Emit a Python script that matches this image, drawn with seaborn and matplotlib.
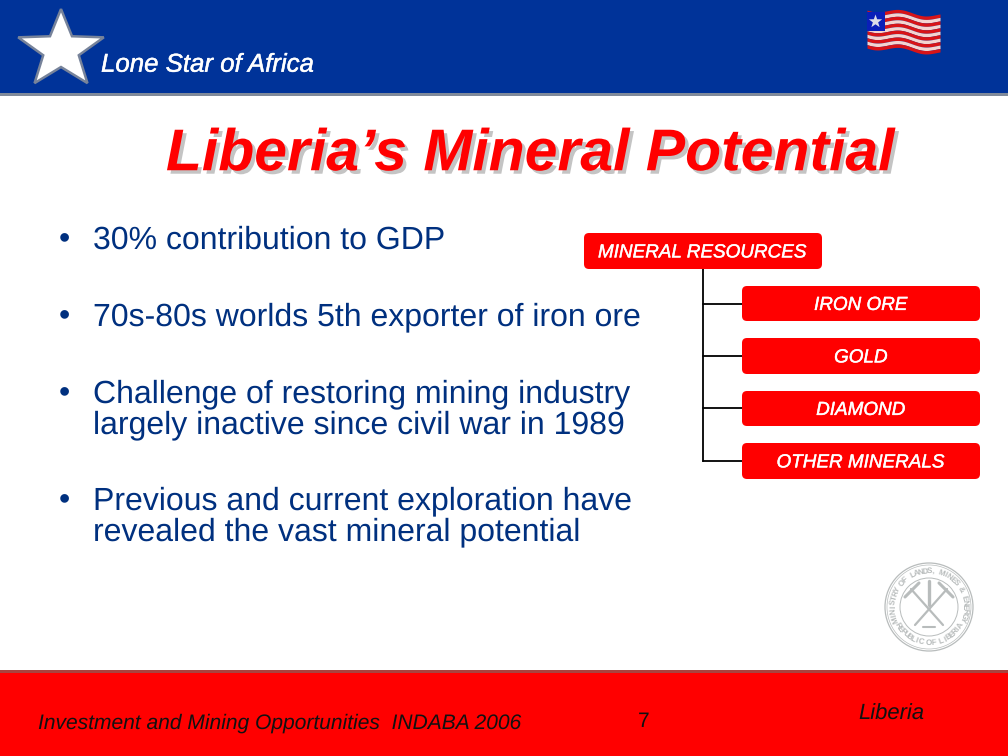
import numpy as np
import matplotlib
matplotlib.use("Agg")
import matplotlib.pyplot as plt
import matplotlib.patheffects as pe
from matplotlib.patches import FancyBboxPatch, Polygon, Rectangle, Circle
import seaborn as sns

sns.set_theme(style="white")
plt.rcParams['font.family'] = ['Liberation Sans', 'DejaVu Sans']
plt.rcParams['text.hinting'] = 'no_hinting'
plt.rcParams['text.hinting_factor'] = 1

header_text = "Lone Star of Africa"
title_text = "Liberia’s Mineral Potential"
bullet_lines = ["30% contribution to GDP",
                "70s-80s worlds 5th exporter of iron ore",
                "Challenge of restoring mining industry\nlargely inactive since civil war in 1989",
                "Previous and current exploration have\nrevealed the vast mineral potential"]
root_label = "MINERAL RESOURCES"
child_labels = ["IRON ORE", "GOLD", "DIAMOND", "OTHER MINERALS"]
footer_left = "Investment and Mining Opportunities  INDABA 2006"
footer_page = "7"
footer_right = "Liberia"
seal_top = "MINISTRY OF LANDS, MINES & ENERGY"
seal_bottom = "REPUBLIC OF LIBERIA"

BLUE = "#003399"; TEXTBLUE = "#00307F"; RED = "#FF0000"; GREY = "#808A9A"

fig = plt.figure(figsize=(10.08, 7.56), dpi=100)
ax = fig.add_axes([0, 0, 1, 1])
ax.set_xlim(0, 1008); ax.set_ylim(756, 0); ax.axis("off")

# bands
ax.add_patch(Rectangle((0, 0), 1008, 93, fc=BLUE, ec="none"))
ax.add_patch(Rectangle((0, 93), 1008, 3, fc=GREY, ec="none"))
ax.add_patch(Rectangle((0, 670), 1008, 86, fc=RED, ec="none"))
ax.add_patch(Rectangle((0, 670), 1008, 3, fc="#A8443F", ec="none"))

# star
a = np.deg2rad(-90 + np.arange(10) * 36)
rad = np.where(np.arange(10) % 2 == 0, 45, 18.7)
ax.add_patch(Polygon(np.c_[61 + rad * np.cos(a), 50 + rad * 0.91 * np.sin(a)],
                     fc="white", ec="#77839A", lw=1.8, joinstyle="miter"))
ax.text(101, 65, header_text, color="white", fontsize=18.6, style="italic",
        va="center", ha="left", path_effects=[pe.withStroke(linewidth=0.3, foreground="white")])

# flag
fx = np.linspace(867, 940, 80)
def wave(x, y0):
    frac = (x - 867) / 73
    return y0 + 2.2 * np.sin(frac * 2 * np.pi * 1.5 + 0.5) + 6 * frac - 3
n = 11
edges = np.linspace(12, 50, n + 1)
for i in range(n):
    yy0 = wave(fx, edges[i]); yy1 = wave(fx, edges[i + 1])
    ax.fill_between(fx, yy0, yy1, color="#D81418" if i % 2 == 0 else "#F4D4D0", lw=0)
ax.add_patch(Rectangle((867, 12), 18, 19, fc="#0A1FB8", ec="none", zorder=3))
a2 = np.deg2rad(-90 + np.arange(10) * 36)
r2 = np.where(np.arange(10) % 2 == 0, 7, 2.8)
ax.add_patch(Polygon(np.c_[875.5 + r2 * np.cos(a2), 21.5 + r2 * np.sin(a2)],
                     fc="#DDDDE8", ec="none", zorder=4))

# title
ax.text(531, 155, title_text, color=RED, fontsize=42.4, weight="bold", style="italic",
        ha="center", va="center",
        path_effects=[pe.SimplePatchShadow(offset=(2.5, -2.5), shadow_rgbFace="#C4C4C4", alpha=1),
                      pe.Normal()])

# bullets
bullet_y = [240, 317, 394, 501]
for line, y in zip(bullet_lines, bullet_y):
    parts = line.split("\n")
    ax.text(59, y, "•", color=TEXTBLUE, fontsize=23, ha="left", va="center")
    for k, part in enumerate(parts):
        ax.text(93, y + k * 31, part, color=TEXTBLUE, fontsize=22.95, ha="left", va="center")

# connectors
child_y = [304, 356, 408, 461]
ax.plot([703, 703], [269, 461], color="black", lw=1.3, solid_capstyle="projecting")
for y in child_y:
    ax.plot([703, 742], [y, y], color="black", lw=1.3)

def box(x0, x1, y0, y1, label, fs):
    pad = 5
    ax.add_patch(FancyBboxPatch((x0 + pad, y0 + pad), x1 - x0 - 2 * pad, y1 - y0 - 2 * pad,
                                boxstyle=f"round,pad={pad},rounding_size={pad}",
                                fc=RED, ec="none", zorder=3))
    ax.text((x0 + x1) / 2, (y0 + y1) / 2 + 1.5, label, color="white", fontsize=fs, style="italic",
            ha="center", va="center", zorder=4,
            path_effects=[pe.withStroke(linewidth=0.3, foreground="white")])

box(584, 822, 233, 269, root_label, 13.6)
child_span = [(286, 321), (338, 374), (391, 426), (443, 479)]
for label, (y0, y1) in zip(child_labels, child_span):
    box(742, 980, y0, y1, label, 13.6)

# seal
cx, cy = 929, 607
sc = "#B8BCBC"
for r, lw in [(44, 0.9), (42, 0.5), (29, 0.7)]:
    ax.add_patch(Circle((cx, cy), r, fc="none", ec=sc, lw=lw))
ax.plot([cx - 18, cx + 14], [cy - 18, cy + 18], color=sc, lw=1.6)
ax.plot([cx + 18, cx - 14], [cy - 18, cy + 18], color=sc, lw=1.6)
ax.plot([cx - 24, cx - 10], [cy - 10, cy - 24], color=sc, lw=2.2)
ax.plot([cx + 24, cx + 10], [cy - 10, cy - 24], color=sc, lw=2.2)
ax.plot([cx, cx], [cy - 26, cy - 2], color=sc, lw=2.4)
ax.plot([cx - 6, cx + 6], [cy + 20, cy + 20], color=sc, lw=1.5)
for ch, t in zip(seal_top, np.linspace(-200, 20, len(seal_top))):
    th = np.deg2rad(t)
    ax.text(cx + 36 * np.cos(th), cy + 36 * np.sin(th), ch, color=sc, fontsize=6,
            ha="center", va="center", rotation=-(t + 90), weight="bold")
for ch, t in zip(seal_bottom, np.linspace(150, 30, len(seal_bottom))):
    th = np.deg2rad(t)
    ax.text(cx + 36 * np.cos(th), cy + 36 * np.sin(th), ch, color=sc, fontsize=6,
            ha="center", va="center", rotation=-(t - 90), weight="bold")

# footer
ax.text(38, 723, footer_left, color="#111111", fontsize=15.1, style="italic", ha="left", va="center")
ax.text(644, 722, footer_page, color="#111111", fontsize=15.1, ha="center", va="center")
ax.text(891, 714, footer_right, color="#111111", fontsize=15.5, style="italic", ha="center", va="center")

fig.savefig("out.png", dpi=100, facecolor="white")
